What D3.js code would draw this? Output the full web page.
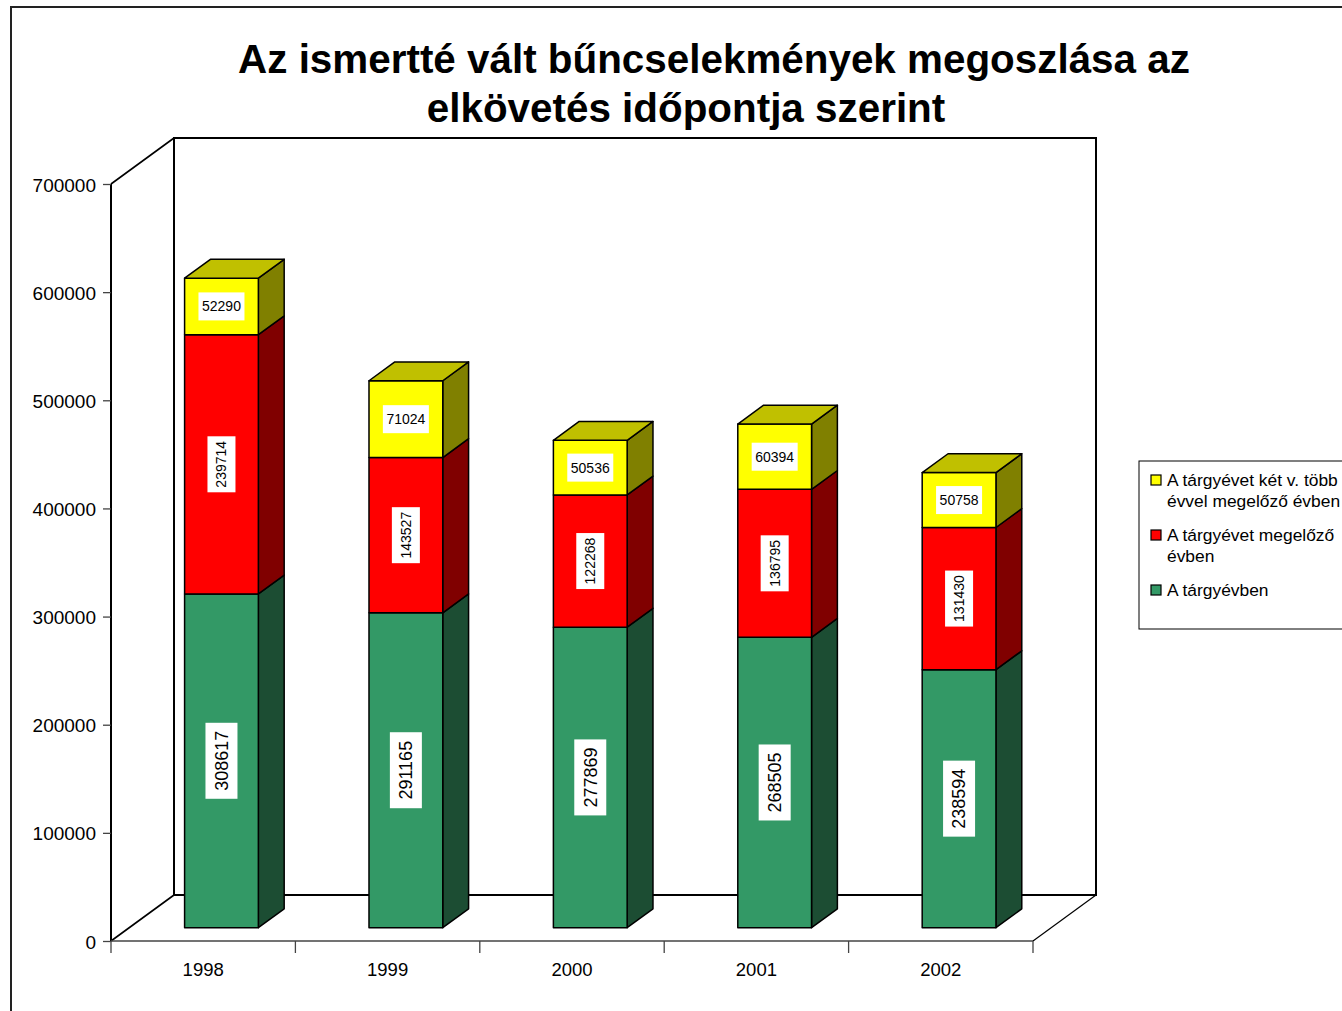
<!DOCTYPE html>
<html>
<head>
<meta charset="utf-8">
<script src="https://cdn.jsdelivr.net/npm/d3@7"></script>
<style>
  body { margin: 0; background: #fff; }
  svg { display: block; font-family: "Liberation Sans", Arial, sans-serif; }
</style>
</head>
<body>
<div id="chart"></div>
<script>
// adatok
const years = ["1998", "1999", "2000", "2001", "2002"];
const targyevben = [308617, 291165, 277869, 268505, 238594];
const megelozo = [239714, 143527, 122268, 136795, 131430];
const ketTobb = [52290, 71024, 50536, 60394, 50758];
const seriesNames = ["A tárgyévben", "A tárgyévet megelőző évben", "A tárgyévet két v. több évvel megelőző évben"];
const yTicks = [0, 100000, 200000, 300000, 400000, 500000, 600000, 700000];

function chart() {
    const width = 1342, height = 1011;

    const svg = d3.select("#chart").append("svg")
        .attr("width", width)
        .attr("height", height);

    // front plane + depth vector
    const left = 111, right = 1033, bottom = 941, top = 184;
    const depthX = 63, depthY = -46;
    const z0 = 0.29, z1 = 0.70;

    const x = d3.scaleBand().domain(years).range([left, right])
        .paddingInner(0.6).paddingOuter(0.3);
    const y = d3.scaleLinear().domain([0, 700000]).range([bottom, top]);

    const P = (px, v, z) => [px + z * depthX, y(v) + z * depthY];

    const colors = [
        {front: "#339966", side: "#1c4d33", top: "#26734d"},
        {front: "#ff0000", side: "#800000", top: "#c00000"},
        {front: "#ffff00", side: "#808000", top: "#c0c000"}
    ];

    // outer frame
    svg.append("path")
        .attr("d", `M11,${height}V7H${width}`)
        .attr("fill", "none")
        .attr("stroke", "#222")
        .attr("stroke-width", 2);

    // title
    const title = svg.append("g")
        .attr("font-weight", "bold")
        .attr("font-size", 40.4)
        .attr("text-anchor", "middle");
    title.append("text").attr("x", 714).attr("y", 73)
        .text("Az ismertté vált bűncselekmények megoszlása az");
    title.append("text").attr("x", 686).attr("y", 122)
        .text("elkövetés időpontja szerint");

    // walls
    const walls = svg.append("g").attr("fill", "none").attr("stroke", "#000");
    const bl = P(left, 0, 1), tl = P(left, 700000, 1), br = P(right, 0, 1);
    walls.append("rect")
        .attr("x", bl[0]).attr("y", tl[1])
        .attr("width", br[0] - bl[0]).attr("height", bl[1] - tl[1])
        .attr("fill", "#fff")
        .attr("stroke-width", 2);
    walls.append("path")
        .attr("d", `M${left},${y(700000)}L${tl[0]},${tl[1]}M${left},${y(0)}L${bl[0]},${bl[1]}`)
        .attr("stroke-width", 1.6);
    walls.append("path")
        .attr("d", `M${right},${y(0)}L${br[0]},${br[1]}`)
        .attr("stroke-width", 1.2);

    // y axis
    const yAxis = svg.append("g")
        .attr("transform", `translate(${left},0)`)
        .call(d3.axisLeft(y).tickValues(yTicks).tickSize(8).tickPadding(7).tickFormat(d3.format("d")));
    yAxis.select(".domain").attr("stroke", "#000").attr("stroke-width", 2)
        .attr("d", `M0,${y(0)}V${y(700000)}`);
    yAxis.selectAll(".tick line").attr("stroke", "#444").attr("stroke-width", 1.3);
    yAxis.selectAll(".tick text")
        .attr("font-size", 19)
        .attr("dy", "0.37em")
        .attr("font-family", "Liberation Sans, Arial, sans-serif")
        .attr("fill", "#000");

    // x axis
    const xAxis = svg.append("g").attr("stroke", "#444").attr("stroke-width", 1.3);
    xAxis.append("line").attr("x1", left).attr("x2", right).attr("y1", bottom).attr("y2", bottom);
    const step = x.step();
    d3.range(years.length + 1).forEach(i => {
        xAxis.append("line")
            .attr("x1", left + i * step).attr("x2", left + i * step)
            .attr("y1", bottom).attr("y2", bottom + 12);
    });
    svg.append("g").selectAll("text").data(years).join("text")
        .attr("x", d => x(d) + x.bandwidth() / 2)
        .attr("y", bottom + 35)
        .attr("text-anchor", "middle")
        .attr("font-size", 18.5)
        .text(d => d);

    // stacked bars
    const rows = years.map((yr, i) => ({year: yr, a: targyevben[i], b: megelozo[i], c: ketTobb[i]}));
    const stack = d3.stack().keys(["a", "b", "c"])(rows);

    const bars = svg.append("g")
        .attr("stroke", "#000")
        .attr("stroke-width", 1.5)
        .attr("stroke-linejoin", "round");

    years.forEach((yr, i) => {
        const xa = x(yr), xb = x(yr) + x.bandwidth();
        stack.forEach((layer, k) => {
            const v0 = layer[i][0], v1 = layer[i][1];
            const c = colors[k];
            const side = [P(xb, v0, z0), P(xb, v1, z0), P(xb, v1, z1), P(xb, v0, z1)];
            bars.append("polygon").attr("points", side.join(" ")).attr("fill", c.side);
            const f0 = P(xa, v1, z0), f1 = P(xb, v0, z0);
            bars.append("rect")
                .attr("x", f0[0]).attr("y", f0[1])
                .attr("width", f1[0] - f0[0]).attr("height", f1[1] - f0[1])
                .attr("fill", c.front);
            if (k === stack.length - 1) {
                const tp = [P(xa, v1, z0), P(xb, v1, z0), P(xb, v1, z1), P(xa, v1, z1)];
                bars.append("polygon").attr("points", tp.join(" ")).attr("fill", c.top);
            }
        });
    });

    // value labels
    const labels = svg.append("g");
    const labelStyle = [
        {fs: 18, rot: true, w: 32, h: 76},
        {fs: 14, rot: true, w: 28, h: 56},
        {fs: 14, rot: false, w: 46, h: 28}
    ];
    years.forEach((yr, i) => {
        stack.forEach((layer, k) => {
            const v0 = layer[i][0], v1 = layer[i][1];
            const p = P(x(yr) + x.bandwidth() / 2, (v0 + v1) / 2, z0);
            const s = labelStyle[k];
            const g = labels.append("g")
                .attr("transform", `translate(${p[0]},${p[1]})${s.rot ? " rotate(-90)" : ""}`);
            const bw = s.rot ? s.h : s.w, bh = s.rot ? s.w : s.h;
            g.append("rect")
                .attr("x", -bw / 2).attr("y", -bh / 2)
                .attr("width", bw).attr("height", bh)
                .attr("fill", "#fff");
            g.append("text")
                .attr("text-anchor", "middle")
                .attr("dy", "0.35em")
                .attr("font-size", s.fs)
                .text(layer[i].data[layer.key]);
        });
    });

    // legend
    const legend = svg.append("g");
    legend.append("rect")
        .attr("x", 1139).attr("y", 461)
        .attr("width", 260).attr("height", 168)
        .attr("fill", "#fff").attr("stroke", "#000").attr("stroke-width", 1);
    const legendItems = [
        {k: 2, lines: ["A tárgyévet két v. több", "évvel megelőző évben"], cy: 480},
        {k: 1, lines: ["A tárgyévet megelőző", "évben"], cy: 535},
        {k: 0, lines: ["A tárgyévben"], cy: 590}
    ];
    legendItems.forEach(it => {
        legend.append("rect")
            .attr("x", 1151).attr("y", it.cy - 5)
            .attr("width", 10).attr("height", 10)
            .attr("fill", colors[it.k].front)
            .attr("stroke", "#000").attr("stroke-width", 1.2);
        it.lines.forEach((ln, j) => {
            legend.append("text")
                .attr("x", 1167).attr("y", it.cy + 6 + j * 21)
                .attr("font-size", 17.4)
                .text(ln);
        });
    });
}

window.onload = function() {
    chart();
};
</script>
</body>
</html>
